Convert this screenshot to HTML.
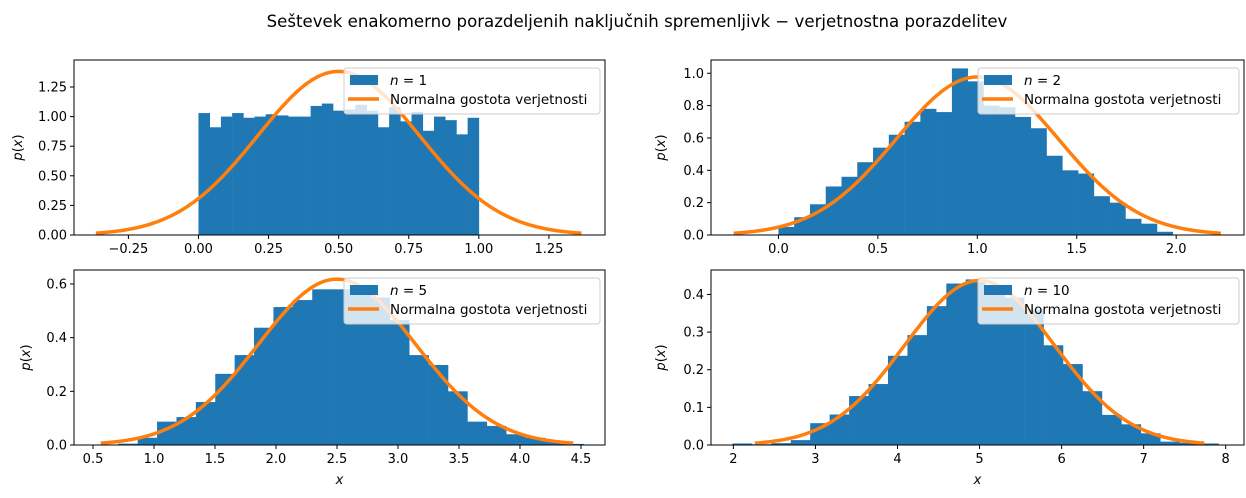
<!DOCTYPE html>
<html><head><meta charset="utf-8"><style>
body{margin:0;background:#fff;}
svg{display:block;font-family:"DejaVu Sans","Liberation Sans",sans-serif;}
</style></head><body>
<svg id="fig" width="1246" height="498" viewBox="0 0 1246 498" xmlns="http://www.w3.org/2000/svg">
<text x="637" y="27" font-size="16.6" text-anchor="middle">Seštevek enakomerno porazdeljenih naključnih spremenljivk − verjetnostna porazdelitev</text>
</svg>
<script>
// n=1
const n1Start = 0.0, n1Width = 0.04;
const n1Heights = [1.03,0.91,1.00,1.03,0.99,1.00,1.02,1.01,1.00,1.00,1.09,1.11,1.05,1.06,1.10,1.05,0.91,1.08,0.96,1.04,0.88,1.00,0.97,0.85,0.99];
const n1XTicks = [-0.25,0,0.25,0.5,0.75,1.0,1.25];
const n1XTickLabels = ["−0.25","0.00","0.25","0.50","0.75","1.00","1.25"];
const n1YTicks = [0,0.25,0.5,0.75,1.0,1.25];
const n1YTickLabels = ["0.00","0.25","0.50","0.75","1.00","1.25"];
// n=2
const n2Start = 0.0, n2Width = 0.0793;
const n2Heights = [0.05,0.11,0.19,0.30,0.36,0.45,0.54,0.62,0.70,0.78,0.76,1.03,0.95,0.80,0.79,0.73,0.66,0.49,0.40,0.38,0.24,0.20,0.10,0.07,0.02];
const n2XTicks = [0,0.5,1.0,1.5,2.0];
const n2XTickLabels = ["0.0","0.5","1.0","1.5","2.0"];
const n2YTicks = [0,0.2,0.4,0.6,0.8,1.0];
const n2YTickLabels = ["0.0","0.2","0.4","0.6","0.8","1.0"];
// n=5
const n5Start = 0.707, n5Width = 0.159;
const n5Heights = [0.005,0.027,0.087,0.104,0.16,0.265,0.335,0.437,0.514,0.54,0.58,0.58,0.58,0.55,0.466,0.335,0.298,0.20,0.087,0.071,0.04,0.027,0.012,0.004];
const n5XTicks = [0.5,1.0,1.5,2.0,2.5,3.0,3.5,4.0,4.5];
const n5XTickLabels = ["0.5","1.0","1.5","2.0","2.5","3.0","3.5","4.0","4.5"];
const n5YTicks = [0,0.2,0.4,0.6];
const n5YTickLabels = ["0.0","0.2","0.4","0.6"];
// n=10
const n10Start = 1.988, n10Width = 0.237;
const n10Heights = [0.004,0.002,0.005,0.013,0.058,0.081,0.13,0.162,0.237,0.292,0.369,0.429,0.44,0.41,0.392,0.36,0.265,0.215,0.143,0.08,0.055,0.031,0.009,0.006,0.004];
const n10XTicks = [2,3,4,5,6,7,8];
const n10XTickLabels = ["2","3","4","5","6","7","8"];
const n10YTicks = [0,0.1,0.2,0.3,0.4];
const n10YTickLabels = ["0.0","0.1","0.2","0.3","0.4"];

const NS="http://www.w3.org/2000/svg";
const svg=document.getElementById('fig');
function mk(tag,attrs,parent){const e=document.createElementNS(NS,tag);for(const k in attrs)e.setAttribute(k,attrs[k]);(parent||svg).appendChild(e);return e;}

function panel(cfg){
  const g=mk('g',{});
  
  
  const {L,R,T,B,xmin,xmax,ymax}=cfg;
  const sx=v=>L+(v-xmin)/(xmax-xmin)*(R-L);
  const sy=v=>B-v/ymax*(B-T);
  cfg.heights.forEach((h,i)=>{
    const x0=sx(cfg.start+i*cfg.width), x1=sx(cfg.start+(i+1)*cfg.width);
    const r=mk('rect',{x:x0,y:sy(h),width:x1-x0+0.3,height:B-sy(h),fill:'#1f77b4'},g);
    
    
  });
  const mu=cfg.n*0.5, sd=Math.sqrt(cfg.n/12);
  let d='';
  for(let i=0;i<=200;i++){const v=mu-3*sd+6*sd*i/200;const p=Math.exp(-0.5*((v-mu)/sd)**2)/(sd*Math.sqrt(2*Math.PI));d+=(i?'L':'M')+sx(v).toFixed(2)+','+sy(p).toFixed(2);}
  const c=mk('path',{d:d,fill:'none',stroke:'#ff7f0e','stroke-width':3.5},g);
  
  
  const fr=mk('rect',{x:L,y:T,width:R-L,height:B-T,fill:'none',stroke:'#000','stroke-width':1},g);
  
  
  cfg.xticks.forEach((v,i)=>{
    mk('line',{x1:sx(v),x2:sx(v),y1:B,y2:B+4,stroke:'#000'},g);
    const t=mk('text',{x:sx(v),y:B+18,'font-size':13,'text-anchor':'middle'},g);t.textContent=cfg.xlabels[i];
    
    
  });
  cfg.yticks.forEach((v,i)=>{
    mk('line',{x1:L-4,x2:L,y1:sy(v),y2:sy(v),stroke:'#000'},g);
    const t=mk('text',{x:L-7,y:sy(v)+4.5,'font-size':13,'text-anchor':'end'},g);t.textContent=cfg.ylabels[i];
    
    
  });
  const yl=mk('text',{x:0,y:0,'font-size':13,'text-anchor':'middle',transform:`translate(${cfg.ylx},${(T+B)/2}) rotate(-90)`},g);
  yl.innerHTML='<tspan font-style="italic">p</tspan>(<tspan font-style="italic">x</tspan>)';
  
  
  if(cfg.xlab){const xl=mk('text',{x:(L+R)/2,y:B+39,'font-size':13,'font-style':'italic','text-anchor':'middle'},g);xl.textContent='x';
    
    }
  const lx=cfg.legX, lw=R-5-lx, ly=T+8;
  const lg=mk('g',{},g);
  
  
  mk('rect',{x:lx,y:ly,width:lw,height:46,rx:3,fill:'#fff','fill-opacity':0.8,stroke:'#ccc'},lg);
  mk('rect',{x:lx+6,y:ly+7,width:28,height:10,fill:'#1f77b4'},lg);
  const t1=mk('text',{x:lx+46,y:ly+17,'font-size':13.5},lg);
  t1.innerHTML='<tspan font-style="italic">n</tspan> = '+cfg.n;
  
  
  mk('line',{x1:lx+4,x2:lx+35,y1:ly+31,y2:ly+31,stroke:'#ff7f0e','stroke-width':3.5},lg);
  const t2=mk('text',{x:lx+46,y:ly+36,'font-size':13.5},lg);t2.textContent='Normalna gostota verjetnosti';
  
  
}
panel({name:'panel-n1',n:1,L:74,R:605,T:60,B:235,xmin:-0.444,xmax:1.450,ymax:1.478,start:n1Start,width:n1Width,heights:n1Heights,xticks:n1XTicks,xlabels:n1XTickLabels,yticks:n1YTicks,ylabels:n1YTickLabels,ylx:22,legX:344});
panel({name:'panel-n2',n:2,L:711,R:1244,T:60,B:235,xmin:-0.339,xmax:2.341,ymax:1.082,start:n2Start,width:n2Width,heights:n2Heights,xticks:n2XTicks,xlabels:n2XTickLabels,yticks:n2YTicks,ylabels:n2YTickLabels,ylx:665,legX:978});
panel({name:'panel-n5',n:5,L:74,R:605,T:270,B:445,xmin:0.344,xmax:4.697,ymax:0.652,start:n5Start,width:n5Width,heights:n5Heights,xticks:n5XTicks,xlabels:n5XTickLabels,yticks:n5YTicks,ylabels:n5YTickLabels,ylx:30,legX:344,xlab:true});
panel({name:'panel-n10',n:10,L:711,R:1244,T:270,B:445,xmin:1.727,xmax:8.223,ymax:0.465,start:n10Start,width:n10Width,heights:n10Heights,xticks:n10XTicks,xlabels:n10XTickLabels,yticks:n10YTicks,ylabels:n10YTickLabels,ylx:665,legX:978,xlab:true});
</script>
</body></html>
